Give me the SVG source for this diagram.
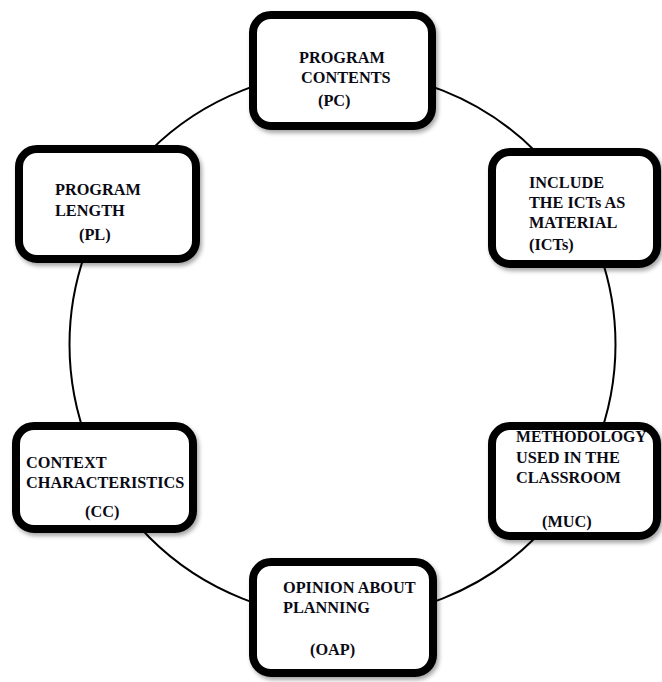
<svg xmlns="http://www.w3.org/2000/svg" width="662" height="682" viewBox="0 0 662 682">
  <defs>
    <filter id="sh" x="-10%" y="-10%" width="125%" height="130%">
      <feDropShadow dx="2" dy="3" stdDeviation="2" flood-color="#000" flood-opacity="0.35"/>
    </filter>
  </defs>
  <style>
    .box { fill: #fff; stroke: #000; stroke-width: 8; filter: url(#sh); }
    .conn { fill: none; stroke: #000; stroke-width: 2; }
    text { font-family: "Liberation Serif", "Times New Roman", serif; font-weight: bold; font-size: 16.3px; fill: #0a0a14; }
  </style>
  <rect width="662" height="682" fill="#fff"/>
  <g id="connectors">
    <circle class="conn" cx="342.5" cy="344.5" r="273"/>
  </g>
  <g id="PC">
    <rect class="box" x="253" y="15" width="179" height="111" rx="18"/>
    <text x="299" y="63">PROGRAM</text>
    <text x="301" y="83">CONTENTS</text>
    <text x="318" y="106">(PC)</text>
  </g>
  <g id="ICTs">
    <rect class="box" x="492" y="152" width="165" height="112" rx="18"/>
    <text x="529" y="188">INCLUDE</text>
    <text x="529" y="208">THE ICTs AS</text>
    <text x="529" y="228">MATERIAL</text>
    <text x="529" y="250">(ICTs)</text>
  </g>
  <g id="PL">
    <rect class="box" x="19" y="149" width="177" height="110" rx="18"/>
    <text x="55" y="195">PROGRAM</text>
    <text x="55" y="216">LENGTH</text>
    <text x="79" y="240">(PL)</text>
  </g>
  <g id="CC">
    <rect class="box" x="16" y="426" width="177" height="103" rx="18"/>
    <text x="26" y="468">CONTEXT</text>
    <text x="26" y="488">CHARACTERISTICS</text>
    <text x="85" y="517">(CC)</text>
  </g>
  <g id="MUC">
    <rect class="box" x="492" y="426" width="165" height="110" rx="18"/>
    <text x="516" y="442" style="font-size:15.8px">METHODOLOGY</text>
    <text x="516" y="463">USED IN THE</text>
    <text x="516" y="483">CLASSROOM</text>
    <text x="542" y="527">(MUC)</text>
  </g>
  <g id="OAP">
    <rect class="box" x="253" y="562" width="180" height="111" rx="18"/>
    <text x="283" y="593">OPINION ABOUT</text>
    <text x="283" y="613">PLANNING</text>
    <text x="310" y="655">(OAP)</text>
  </g>
</svg>
